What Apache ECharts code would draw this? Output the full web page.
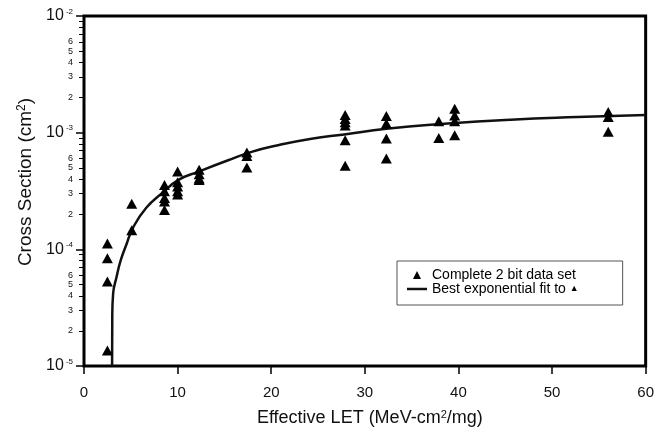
<!DOCTYPE html>
<html>
<head>
<meta charset="utf-8">
<script src="https://cdn.jsdelivr.net/npm/echarts@6/dist/echarts.min.js"></script>
<style>html,body{margin:0;padding:0;background:#fff}#c{width:657px;height:432px}</style>
</head>
<body>
<div id="c"></div>
<script>
// Measured data: effective LET (MeV-cm2/mg) and cross section (cm2)
const dataLET = [
  2.5, 2.5, 2.5, 2.5,
  5.1, 5.1,
  8.6, 8.6, 8.6, 8.6, 8.6,
  10.0, 10.0, 10.0, 10.0, 10.0,
  12.3, 12.3, 12.3, 12.3,
  17.4, 17.4, 17.4,
  27.9, 27.9, 27.9, 27.9, 27.9, 27.9,
  32.3, 32.3, 32.3, 32.3,
  37.9, 37.9,
  39.6, 39.6, 39.6, 39.6,
  56.0, 56.0, 56.0
];
const dataXS = [
  1.12e-4, 8.4e-5, 5.3e-5, 1.36e-5,
  2.46e-4, 1.46e-4,
  3.56e-4, 3.15e-4, 2.75e-4, 2.57e-4, 2.17e-4,
  4.65e-4, 3.75e-4, 3.45e-4, 3.14e-4, 2.95e-4,
  4.8e-4, 4.4e-4, 4.05e-4, 3.93e-4,
  6.77e-4, 6.3e-4, 5.04e-4,
  1.42e-3, 1.31e-3, 1.23e-3, 1.15e-3, 8.6e-4, 5.2e-4,
  1.39e-3, 1.2e-3, 8.9e-4, 6.0e-4,
  1.25e-3, 9.0e-4,
  1.6e-3, 1.4e-3, 1.25e-3, 9.5e-4,
  1.5e-3, 1.36e-3, 1.02e-3
];
// Fit curve
const fitLET = [3.0, 3.02, 3.11, 3.47, 3.92, 4.53, 5.23, 6.65, 8.33, 10.1, 12.23, 15.4, 17.9, 20.7, 24.3, 27.8, 32.3, 38.5, 45.6, 52.7, 60];
const fitXS  = [1.0e-5, 2.64e-5, 4.16e-5, 5.77e-5, 8.04e-5, 1.10e-4, 1.53e-4, 2.27e-4, 3.03e-4, 3.94e-4, 4.63e-4, 5.8e-4, 6.84e-4, 7.8e-4, 8.87e-4, 9.66e-4, 1.08e-3, 1.19e-3, 1.29e-3, 1.36e-3, 1.42e-3];
// Axis ticks
const xTicks = [0, 10, 20, 30, 40, 50, 60];
const yMajor = [1e-5, 1e-4, 1e-3, 1e-2];
const yMinorDigits = [2, 3, 4, 5, 6, 7, 8, 9];
const yMinorLabelDigits = [2, 3, 4, 5, 6];
const seriesNames = ['Complete 2 bit data set', 'Best exponential fit to ▲'];

const decades = [1e-5, 1e-4, 1e-3];
const yMinorTicks = [];
const yMinorLabels = [];
decades.forEach(d => {
  yMinorDigits.forEach(k => yMinorTicks.push(k * d));
  yMinorLabelDigits.forEach(k => yMinorLabels.push(k * d));
});

const FONT = '"Liberation Sans", Arial, sans-serif';
const chart = echarts.init(document.getElementById('c'));
const baseY = {
  type: 'log', min: 1e-5, max: 1e-2, position: 'left',
  splitLine: { show: false }, axisLine: { show: false }
};
chart.setOption({
  animation: false,
  backgroundColor: '#fff',
  grid: { left: 84, right: 7, top: 16, bottom: 62, show: true, borderColor: '#000', borderWidth: 3, backgroundColor: 'transparent' },
  legend: {
    orient: 'vertical', left: 397, top: 261,
    padding: [7, 44, 9, 10],
    itemWidth: 20, itemHeight: 8, itemGap: 0,
    symbolKeepAspect: true,
    borderColor: '#555', borderWidth: 1,
    backgroundColor: '#fff',
    textStyle: { fontFamily: FONT, fontSize: 14, color: '#000', lineHeight: 12.5,
      rich: { t: { fontSize: 9, fontFamily: FONT, color: '#000' } } },
    formatter: n => n === seriesNames[1] ? 'Best exponential fit to {t|▲}' : n,
    data: [
      { name: seriesNames[0], icon: 'path://M4,0L8,8L0,8Z', itemStyle: { color: '#000' } },
      { name: seriesNames[1], icon: 'path://M0,0H20V2.5H0Z', itemStyle: { color: '#111' } }
    ]
  },
  xAxis: {
    type: 'value', min: 0, max: 60, interval: 10,
    name: 'Effective LET (MeV-cm{s|2}/mg)', nameLocation: 'middle', nameGap: 43,
    nameTextStyle: { fontFamily: FONT, fontSize: 18, color: '#111', padding: [0, 0, 0, 10],
      rich: { s: { fontSize: 11, fontFamily: FONT, color: '#111', verticalAlign: 'top', lineHeight: 11 } } },
    axisLine: { show: false },
    axisTick: { show: true, length: 8, lineStyle: { color: '#000', width: 1.5 } },
    axisLabel: { fontFamily: FONT, fontSize: 15, color: '#111', margin: 19 },
    splitLine: { show: false }
  },
  yAxis: [
    Object.assign({}, baseY, {
      name: 'Cross Section (cm{s|2})', nameLocation: 'middle', nameGap: 49,
      nameTextStyle: { fontFamily: FONT, fontSize: 19, color: '#111', padding: [0, 0, 0, 18],
        rich: { s: { fontSize: 12, fontFamily: FONT, color: '#111', verticalAlign: 'top', lineHeight: 12 } } },
      axisTick: { show: true, length: 8, customValues: yMajor, lineStyle: { color: '#000', width: 1.5 } },
      axisLabel: {
        customValues: yMajor, margin: 11, fontFamily: FONT, fontSize: 15, color: '#111',
        formatter: v => '{b|10}{s|' + Math.round(Math.log10(v)) + '}',
        rich: {
          b: { fontSize: 16, fontFamily: FONT, color: '#111', lineHeight: 17 },
          s: { fontSize: 8, fontFamily: FONT, color: '#111', verticalAlign: 'top', lineHeight: 8, padding: [0, 0, 0, 2] }
        }
      }
    }),
    Object.assign({}, baseY, {
      axisTick: { show: true, length: 5, customValues: yMinorTicks, lineStyle: { color: '#000', width: 1 } },
      axisLabel: {
        customValues: yMinorLabels, margin: 11, fontFamily: FONT, fontSize: 9, color: '#111',
        formatter: v => String(Math.round(v / Math.pow(10, Math.floor(Math.log10(v) + 1e-9))))
      }
    })
  ],
  series: [
    {
      name: seriesNames[0], type: 'scatter', symbol: 'triangle', symbolSize: [11, 10],
      itemStyle: { color: '#000', opacity: 1 },
      data: dataLET.map((x, i) => [x, dataXS[i]]), z: 3
    },
    {
      name: seriesNames[1], type: 'line', symbol: 'none', smooth: 0.5,
      lineStyle: { color: '#111', width: 2.5 },
      data: fitLET.map((x, i) => [x, fitXS[i]]), z: 2
    }
  ]
});
</script>
</body>
</html>
